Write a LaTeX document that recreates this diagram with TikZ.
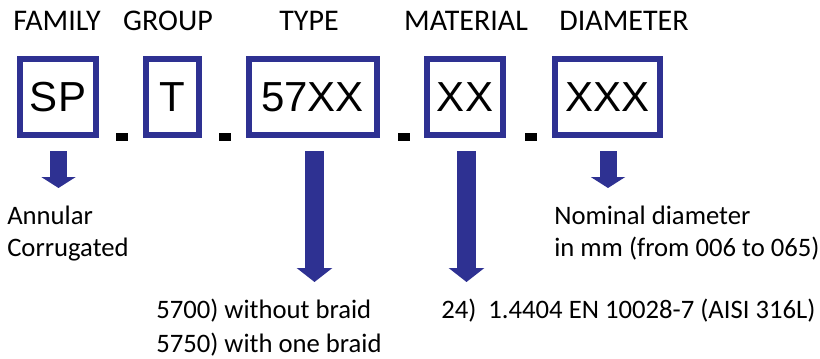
\documentclass[tikz,border=0pt]{standalone}
\usepackage{fontspec}
\setmainfont{Carlito}
\newfontfamily\boxfont{Liberation Sans}
\usepackage{xcolor}
\usetikzlibrary{arrows.meta}
\definecolor{codeBlue}{RGB}{46,49,146}

\begin{document}
\begin{tikzpicture}[x=0.75pt,y=-0.75pt]
\tikzstyle{fieldname} = [inner sep=0, anchor=base, font=\fontsize{22.5}{27}\selectfont]
\tikzstyle{codebox} = [rectangle, draw=codeBlue, line width=4.5pt, minimum height=57pt, inner sep=0, font=\boxfont\fontsize{31.5}{36}\selectfont]
\tikzstyle{separator} = [rectangle, fill=black, inner sep=0, minimum width=9pt, minimum height=6pt]
\tikzstyle{note} = [inner sep=0, anchor=base west, align=left, font=\fontsize{20}{24}\selectfont]
\tikzstyle{shortarrow} = [draw=codeBlue, line width=12.75pt, shorten <=9.75pt, -{Triangle[width=25.5pt,length=8.25pt]}]
\tikzstyle{longarrow} = [draw=codeBlue, line width=14.25pt, shorten <=9.75pt, -{Triangle[width=26.25pt,length=10.5pt]}]

\useasboundingbox (0,0) rectangle (820,358);

% field names
\node(familyName) [fieldname] at (57,30) {FAMILY};
\node(groupName) [fieldname] at (168,30) {GROUP};
\node(typeName) [fieldname] at (309,30) {TYPE};
\node(materialName) [fieldname] at (466,30) {MATERIAL};
\node(diameterName) [fieldname] at (624,30) {DIAMETER};

% code boxes
\node(familyBox) [codebox, minimum width=57pt] at (58,97) {SP};
\node(groupBox) [codebox, minimum width=39.75pt] at (172.5,97) {T};
\node(typeBox) [codebox, minimum width=96pt] at (312.5,97) {57XX};
\node(materialBox) [codebox, minimum width=57pt] at (465,97) {XX};
\node(diameterBox) [codebox, minimum width=78.75pt] at (607.5,97) {XXX};

\node(sep1) [separator] at (122,137) {};
\node(sep2) [separator] at (225,137) {};
\node(sep3) [separator] at (404,137) {};
\node(sep4) [separator] at (531,137) {};

% meanings (base = last line)
\node(familyNote) [note] at (7,256) {Annular\\Corrugated};
\node(typeNote) [note, font=\fontsize{20}{25.5}\selectfont] at (156,352) {5700) without braid\\5750) with one braid};
\node(materialNote) [note] at (441,318) {24)\ \ 1.4404 EN 10028-7 (AISI 316L)};
\node(diameterNote) [note] at (554,256) {Nominal diameter\\in mm (from 006 to 065)};

\coordinate (familyTip) at (58.5,188);
\coordinate (typeTip) at (314.5,282);
\coordinate (materialTip) at (466.5,282);
\coordinate (diameterTip) at (608,188);

\draw[shortarrow] (familyBox.south -| familyTip) -- (familyTip);
\draw[longarrow] (typeBox.south -| typeTip) -- (typeTip);
\draw[longarrow] (materialBox.south -| materialTip) -- (materialTip);
\draw[shortarrow] (diameterBox.south -| diameterTip) -- (diameterTip);
\end{tikzpicture}
\end{document}
